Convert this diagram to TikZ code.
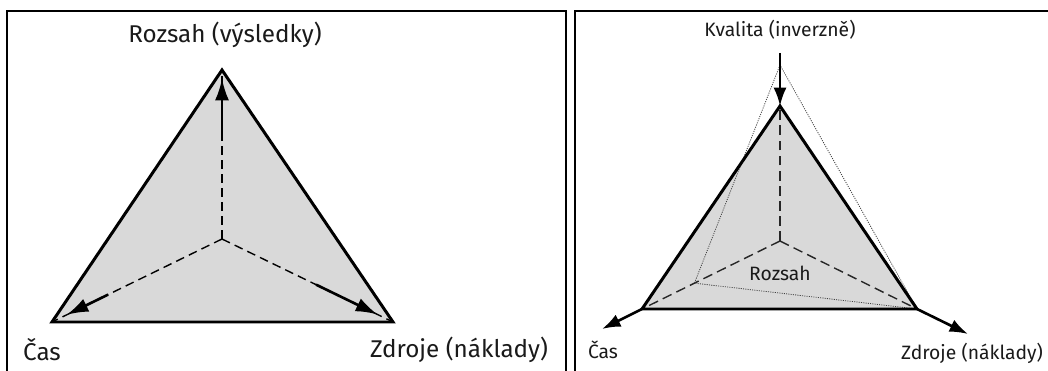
\documentclass[tikz,border=0pt]{standalone}
\usepackage{fontspec}
\setmainfont{Fira Sans}
\usetikzlibrary{calc,arrows.meta}
\definecolor{tri}{HTML}{D9D9D9}
\definecolor{ink}{HTML}{1A1A1A}
\tikzset{
  frame/.style={draw=black, line width=1.1pt},
  trifill/.style={fill=tri, draw=none},
  triline/.style={draw=black, line width=1.7pt, line join=miter},
  dashL/.style={draw=black, line width=0.8pt, dash pattern=on 5pt off 3pt},
  dashR/.style={draw=black!85, line width=0.8pt, dash pattern=on 5.6pt off 3pt},
  dotline/.style={draw=black!75, line width=0.45pt, dash pattern=on 0.6pt off 0.7pt},
  arrL/.style={draw=black, line width=1.5pt, -{Latex[length=12.5pt,width=8pt]}},
  arrR/.style={draw=black, line width=1.5pt, -{Latex[length=10.5pt,width=7.5pt]}},
  labL/.style={text=ink, font=\fontsize{13.8pt}{16pt}\selectfont, inner sep=0pt},
  labR/.style={text=ink, font=\fontsize{11pt}{13pt}\selectfont, inner sep=0pt},
}
\begin{document}
\begin{tikzpicture}[x=0.02cm, y=-0.02cm]
\useasboundingbox (0,0) rectangle (1048,371);
\fill[white] (0,0) rectangle (1048,371);
% frames
\draw[frame] (7,11) rectangle (566,390);
\draw[frame] (575,11) rectangle (1070,390);

% ---------- left panel ----------
\coordinate (LA) at (222,70);
\coordinate (LL) at (52,322);
\coordinate (LR) at (393,322);
\coordinate (LC) at (222,239);
\path[trifill] (LA) -- (LL) -- (LR) -- cycle;
\draw[dashL] (LC) -- (LA);
\draw[dashL] (LC) -- (LL);
\draw[dashL] (LC) -- (LR);
\draw[triline] (LA) -- (LL) -- (LR) -- cycle;
\draw[arrL] ($(LC)!0.58!(LA)$) -- ($(LC)!0.95!(LA)$);
\draw[arrL] ($(LC)!0.67!(LL)$) -- ($(LC)!0.915!(LL)$);
\draw[arrL] ($(LC)!0.55!(LR)$) -- ($(LC)!0.91!(LR)$);
\node[labL] (lt) at (225,35) {Rozsah (výsledky)};
\node[labL] (lc) at (42,350) {Čas};
\node[labL] (lz) at (459,350) {Zdroje (náklady)};

% ---------- right panel ----------
\coordinate (RA) at (780,106);
\coordinate (RL) at (642,309);
\coordinate (RR) at (917,309);
\coordinate (RC) at (780,241);
\coordinate (DT) at (780,65);
\coordinate (DL) at ($(RC)!0.62!(RL)$);
\coordinate (QS) at (780,53);
\coordinate (CT) at (602,329);
\coordinate (ZT) at (968,334);
\path[trifill] (RA) -- (RL) -- (RR) -- cycle;
\draw[dashR] (RC) -- (RA);
\draw[dashR] (RC) -- (RL);
\draw[dashR] (RC) -- (RR);
\draw[dotline] (DT) -- (DL) -- (RR) -- cycle;
\draw[triline] (RA) -- (RL) -- (RR) -- cycle;
\draw[arrR] (QS) -- (RA);
\draw[arrR] (RL) -- (CT);
\draw[arrR] (RR) -- (ZT);
\node[labR] (rk) at (780,30) {Kvalita (inverzně)};
\node[labR] (rr) at (780,273) {Rozsah};
\node[labR] (rc) at (603,350) {Čas};
\node[labR] (rz) at (972,353) {Zdroje (náklady)};
\end{tikzpicture}
\end{document}
